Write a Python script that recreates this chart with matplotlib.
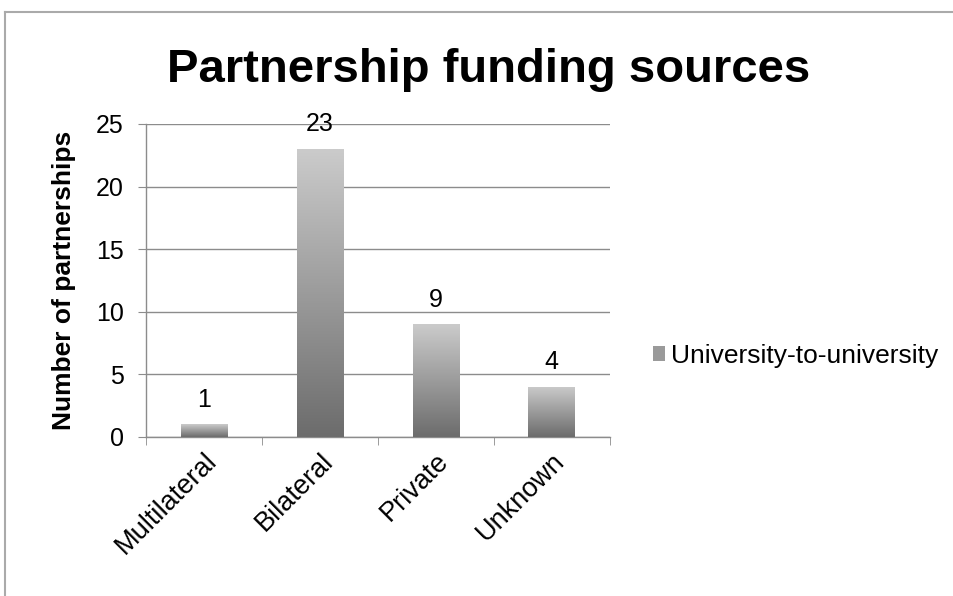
import numpy as np
import matplotlib.pyplot as plt
import matplotlib.transforms as mtransforms
from matplotlib.colors import LinearSegmentedColormap
from matplotlib.lines import Line2D
from matplotlib.patches import Rectangle

categories = ["Multilateral", "Bilateral", "Private", "Unknown"]
values = [1, 23, 9, 4]
series_name = "University-to-university"

plt.rcParams['font.family'] = ['Liberation Sans', 'DejaVu Sans']

fig = plt.figure(figsize=(9.54, 5.96), dpi=100)
ax = fig.add_axes([0.153, 0.267, 0.486, 0.525])

x = np.arange(len(categories))
bars = ax.bar(x, values, width=0.4, color='none', zorder=3)

# vertical gradient inside each bar: light at top, dark at bottom
shade = LinearSegmentedColormap.from_list('shade', ['#cbcbcb', '#6c6c6c'])
grad = np.linspace(0, 1, 256).reshape(-1, 1)
for b in bars:
    x0, y0 = b.get_x(), b.get_y()
    w, h = b.get_width(), b.get_height()
    im = ax.imshow(grad, cmap=shade, aspect='auto',
                   extent=[x0, x0 + w, y0, y0 + h], origin='upper', zorder=3)
    im.set_clip_path(Rectangle((x0, y0), w, h, transform=ax.transData))

for xi, v in zip(x, values):
    ax.text(xi, v + 1.0, str(v), ha='center', va='bottom', fontsize=18)

ax.set_xlim(-0.5, len(categories) - 0.5)
ax.set_ylim(0, 25)
ax.set_yticks([0, 5, 10, 15, 20, 25])
ax.yaxis.grid(True, color='#8c8c8c', linewidth=1.0, zorder=0)
ax.set_axisbelow(True)

ax.set_xticks(x)
ax.set_xticklabels(categories, rotation=45, ha='right', rotation_mode='anchor', fontsize=19.5)
shift = mtransforms.ScaledTranslation(0.12, 0, fig.dpi_scale_trans)
for lab in ax.get_xticklabels():
    lab.set_transform(lab.get_transform() + shift)
ax.set_xticks(np.arange(-0.5, len(categories)), minor=True)
ax.tick_params(axis='x', which='major', length=0, pad=8)
ax.tick_params(axis='x', which='minor', length=6, color='#8c8c8c', direction='out')
ax.tick_params(axis='y', length=6, color='#8c8c8c', labelsize=18, pad=10)

for s in ['top', 'right']:
    ax.spines[s].set_visible(False)
for s in ['left', 'bottom']:
    ax.spines[s].set_color('#8c8c8c')
    ax.spines[s].set_linewidth(1.0)

ax.set_ylabel("Number of partnerships", fontsize=19, fontweight='bold', labelpad=14)

fig.text(0.512, 0.882, "Partnership funding sources", ha='center', va='center',
         fontsize=34, fontweight='bold')

# legend
handle = Rectangle((0, 0), 1, 1, facecolor='#9a9a9a', edgecolor='none')
fig.legend([handle], [series_name], loc='center left', bbox_to_anchor=(0.66, 0.403),
           frameon=False, fontsize=19, handlelength=0.45, handleheight=0.45,
           handletextpad=0.2)

# outer frame lines (top and left)
fig.add_artist(Line2D([0.005, 1.0], [0.98, 0.98], color='#aaaaaa', linewidth=1.5,
                      transform=fig.transFigure))
fig.add_artist(Line2D([0.005, 0.005], [0.0, 0.98], color='#aaaaaa', linewidth=1.5,
                      transform=fig.transFigure))

fig.savefig("out.png", dpi=100)
